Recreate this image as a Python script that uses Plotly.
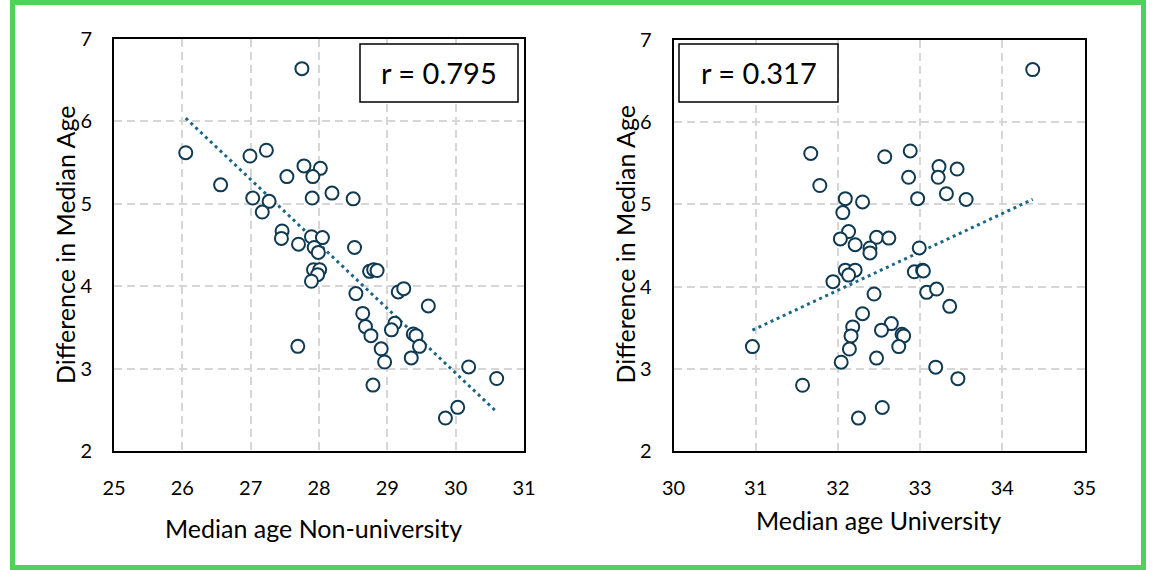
import numpy as np
import plotly.graph_objects as go

# Median age of workers per state: non-university vs university graduates
median_age_non_university = [
    27.75, 26.05, 26.99, 27.23, 26.56, 27.78, 28.02, 27.91, 27.53, 27.03,
    27.27, 27.17, 27.90, 28.19, 28.50, 27.46, 27.45, 27.70, 27.89, 28.05,
    27.93, 27.99, 28.52, 27.92, 28.01, 27.98, 27.89, 28.74, 28.80, 28.85,
    28.54, 29.16, 29.24, 29.60, 28.64, 28.68, 28.76, 29.11, 29.06, 29.38,
    29.42, 29.47, 28.91, 28.96, 29.35, 27.69, 30.19, 30.60, 28.79, 30.03,
    29.85,
]
median_age_university = [
    34.37, 31.67, 32.57, 32.88, 31.78, 33.23, 33.45, 33.22, 32.86, 32.09,
    32.30, 32.06, 32.97, 33.32, 33.56, 32.13, 32.03, 32.21, 32.47, 32.62,
    32.39, 32.39, 32.99, 32.09, 32.21, 32.13, 31.94, 32.93, 33.03, 33.04,
    32.44, 33.08, 33.20, 33.36, 32.30, 32.18, 32.16, 32.65, 32.53, 32.78,
    32.80, 32.74, 32.14, 32.04, 32.47, 30.96, 33.19, 33.46, 31.57, 32.54,
    32.25,
]
difference_in_median_age = [
    6.64, 5.62, 5.58, 5.65, 5.23, 5.46, 5.43, 5.33, 5.33, 5.07,
    5.03, 4.90, 5.07, 5.13, 5.06, 4.67, 4.58, 4.51, 4.60, 4.59,
    4.47, 4.41, 4.47, 4.20, 4.20, 4.14, 4.06, 4.18, 4.20, 4.19,
    3.91, 3.93, 3.97, 3.76, 3.67, 3.51, 3.40, 3.55, 3.47, 3.42,
    3.40, 3.27, 3.24, 3.08, 3.13, 3.27, 3.02, 2.88, 2.80, 2.53,
    2.40,
]

r_label_non_university = "r = 0.795"
r_label_university = "r = 0.317"

x_ticks_non_university = [25, 26, 27, 28, 29, 30, 31]
x_ticks_university = [30, 31, 32, 33, 34, 35]
y_ticks = [2, 3, 4, 5, 6, 7]

x_title_non_university = "Median age Non-university"
x_title_university = "Median age University"
y_title = "Difference in Median Age"

W, H = 1153, 570
FONT = "Lato"
MARKER_LINE = "#0f3a52"
TREND = "#1b6688"
GREEN = "#4fd15c"


def px(x):
    return x / W


def py(y):
    return 1 - y / H


def trend(xs, ys):
    xs = np.asarray(xs, float)
    ys = np.asarray(ys, float)
    slope, icpt = np.polyfit(xs, ys, 1)
    xl = np.array([xs.min(), xs.max()])
    return xl, slope * xl + icpt


fig = go.Figure()

panels = [
    (median_age_non_university, "x", "y"),
    (median_age_university, "x2", "y2"),
]
for xs, xa, ya in panels:
    tx, ty = trend(xs, difference_in_median_age)
    fig.add_trace(go.Scatter(
        x=tx, y=ty, mode="lines", xaxis=xa, yaxis=ya,
        line=dict(color=TREND, width=3, dash="3px,3.7px"),
        hoverinfo="skip", showlegend=False,
    ))
    fig.add_trace(go.Scatter(
        x=xs, y=difference_in_median_age, mode="markers", xaxis=xa, yaxis=ya,
        marker=dict(symbol="circle", size=13, color="white",
                    line=dict(color=MARKER_LINE, width=2)),
        showlegend=False,
    ))

axis_common = dict(
    showline=True, linecolor="black", linewidth=2, mirror=True,
    showgrid=True, gridcolor="#d6d6d6", gridwidth=1.5, griddash="8px,5px",
    zeroline=False, ticks="", tickmode="array", automargin=False,
    tickfont=dict(family=FONT, size=20, color="black"),
)

fig.update_layout(
    template="none",
    width=W, height=H, autosize=False,
    margin=dict(l=0, r=0, t=0, b=0, pad=0, autoexpand=False),
    paper_bgcolor="white", plot_bgcolor="white",
    xaxis=dict(axis_common, domain=[px(114), px(524)], range=[25, 31],
               tickvals=x_ticks_non_university, anchor="y",
               ticklabelstandoff=18),
    yaxis=dict(axis_common, domain=[py(451), py(39)], range=[2, 7],
               tickvals=y_ticks, anchor="x", ticklabelstandoff=16),
    xaxis2=dict(axis_common, domain=[px(673.5), px(1084.5)], range=[30, 35],
                tickvals=x_ticks_university, anchor="y2",
                ticklabelstandoff=18),
    yaxis2=dict(axis_common, domain=[py(451), py(40)], range=[2, 7],
                tickvals=y_ticks, anchor="x2", ticklabelstandoff=16),
)

shapes = [
    # outer green frame
    dict(type="rect", xref="paper", yref="paper",
         x0=px(12.5), x1=px(1143.5), y0=py(567.5), y1=py(2.5),
         line=dict(color=GREEN, width=5), layer="above"),
    # correlation boxes
    dict(type="rect", xref="paper", yref="paper",
         x0=px(360), x1=px(518), y0=py(102), y1=py(44),
         line=dict(color="black", width=1.5), fillcolor="white", layer="above"),
    dict(type="rect", xref="paper", yref="paper",
         x0=px(679), x1=px(838), y0=py(102), y1=py(44),
         line=dict(color="black", width=1.5), fillcolor="white", layer="above"),
]
fig.update_layout(shapes=shapes)

annotations = [
    dict(text=r_label_non_university, x=px(439), y=py(73)),
    dict(text=r_label_university, x=px(758.5), y=py(73)),
]
annotations = [dict(a, xref="paper", yref="paper", showarrow=False,
                    xanchor="center", yanchor="middle",
                    font=dict(family=FONT, size=29, color="black"))
               for a in annotations]

titles = [
    dict(text=x_title_non_university, x=px(313), y=py(528), textangle=0),
    dict(text=x_title_university, x=px(879), y=py(520), textangle=0),
    dict(text=y_title, x=px(65), y=py(245), textangle=-90),
    dict(text=y_title, x=px(624.5), y=py(245), textangle=-90),
]
annotations += [dict(a, xref="paper", yref="paper", showarrow=False,
                     xanchor="center", yanchor="middle",
                     font=dict(family=FONT, size=25, color="black"))
                for a in titles]
fig.update_layout(annotations=annotations)

fig.write_html("out.html")
